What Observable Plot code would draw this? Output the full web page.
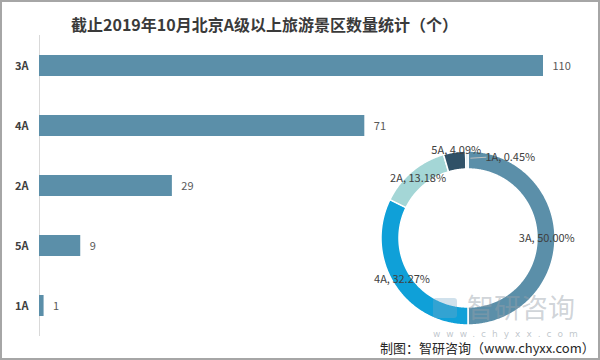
<!DOCTYPE html>
<html><head><meta charset="utf-8">
<script src="https://cdn.jsdelivr.net/npm/d3@7"></script>
<script src="https://cdn.jsdelivr.net/npm/@observablehq/plot@0.6"></script>
<style>
body{margin:0;background:#fff;}
#frame{position:relative;width:600px;height:360px;overflow:hidden;background:#fff;font-family:"Noto Sans CJK SC","Noto Sans",sans-serif;}
#border{position:absolute;left:0;top:0;width:600px;height:360px;box-sizing:border-box;border:2px solid #a6a6a6;z-index:10;pointer-events:none;}
#title{position:absolute;left:71px;top:13px;font-size:16px;line-height:22px;font-weight:bold;color:#3a3a3a;white-space:nowrap;}
#bars{position:absolute;left:0;top:0;}
#donut{position:absolute;left:348px;top:138px;}
#wm{position:absolute;left:467px;top:293px;font-size:27px;line-height:27px;color:rgba(150,160,170,0.45);white-space:nowrap;z-index:5;}
#wmlogo{position:absolute;left:433px;top:298px;width:24px;height:20px;background:rgba(120,170,200,0.35);border-radius:3px;z-index:5;}
#wmurl{position:absolute;left:433px;top:329px;font-size:9px;line-height:10px;letter-spacing:6px;color:rgba(150,160,170,0.6);white-space:nowrap;z-index:5;font-family:"DejaVu Sans",sans-serif;}
#caption{position:absolute;left:380px;top:340px;font-size:13px;line-height:16px;color:#262626;white-space:nowrap;z-index:6;background:transparent;}
svg{overflow:visible;}
</style></head><body>
<div id="frame">
  <div id="title">截止2019年10月北京A级以上旅游景区数量统计（个）</div>
  <div id="bars"></div>
  <div id="donut"></div>
  <div id="wmlogo"></div>
  <div id="wm">智研咨询</div>
  <div id="wmurl">www.chyxx.com</div>
  <div id="caption">制图：智研咨询（www.chyxx.com）</div>
  <div id="border"></div>
</div>
<script>
// ---- data ----
const categories = ["3A", "4A", "2A", "5A", "1A"];
const counts = [110, 71, 29, 9, 1];
const shareLabels = ["50.00%", "32.27%", "13.18%", "4.09%", "0.45%"];
const sliceColors = ["#5b8fa9", "#0fa0d8", "#a4d6d6", "#2f5167", "#c9e3ea"];

const rows = categories.map((c, i) => ({cat: c, count: counts[i], share: shareLabels[i]}));
const font = '"Noto Sans CJK SC","Noto Sans",sans-serif';

// ---- bar chart ----
const bars = Plot.plot({
  width: 600, height: 360,
  marginLeft: 39, marginRight: 57, marginTop: 35, marginBottom: 24,
  style: {fontFamily: font, background: "transparent", fontSize: "11px"},
  x: {domain: [0, 110], axis: null},
  y: {domain: categories, paddingInner: 0.65, paddingOuter: 0.325, axis: null},
  marks: [
    Plot.ruleX([0], {stroke: "#d9d9d9", strokeWidth: 1}),
    Plot.barX(rows, {x: "count", y: "cat", fill: "#5b8fa9"}),
    Plot.text(rows, {x: "count", y: "cat", text: d => String(d.count), textAnchor: "start", dx: 9, fill: "#595959", fontSize: 11}),
    Plot.axisY({tickSize: 0, tickPadding: 11, fontWeight: "bold", fontSize: 11, fill: "#404040", label: null})
  ]
});
document.getElementById("bars").appendChild(bars);

// ---- donut chart ----
const R = 1, r = 69 / 87;
const arcs = d3.pie().sort(null).value(d => d.count)(rows);
const ringRows = [];
arcs.forEach(a => {
  const n = Math.max(2, Math.ceil((a.endAngle - a.startAngle) / 0.01));
  for (let i = 0; i <= n; i++) {
    const t = a.startAngle + (a.endAngle - a.startAngle) * i / n;
    ringRows.push({cat: a.data.cat, x1: Math.sin(t) * R, y1: Math.cos(t) * R, x2: Math.sin(t) * r, y2: Math.cos(t) * r});
  }
});
const labelRows = arcs.map(a => {
  const m = (a.startAngle + a.endAngle) / 2;
  return {cat: a.data.cat, text: a.data.cat + ", " + a.data.share, x: Math.sin(m) * 0.9, y: Math.cos(m) * 0.9};
});
const k = 87; // px per unit
const donut = Plot.plot({
  width: 240, height: 200,
  margin: 0,
  style: {fontFamily: font, background: "transparent", fontSize: "11px"},
  x: {domain: [-120 / k, 120 / k], axis: null},
  y: {domain: [-100 / k, 100 / k], axis: null},
  color: {domain: categories, range: sliceColors},
  marks: [
    Plot.area(ringRows, {x1: "x1", y1: "y1", x2: "x2", y2: "y2", z: "cat", fill: "cat", stroke: "white", strokeWidth: 1.5, curve: "linear"}),
    Plot.text(labelRows.filter(d => ["3A", "4A", "2A"].includes(d.cat)), {x: "x", y: "y", text: "text", fill: "#404040", fontSize: 11}),
    Plot.text(labelRows.filter(d => d.cat === "5A"), {x: "x", y: "y", text: "text", fill: "#404040", fontSize: 11, dy: -11}),
    Plot.link(labelRows.filter(d => d.cat === "1A"), {x1: "x", y1: "y", x2: d => d.x + 16 / k, y2: d => d.y + 1 / k, stroke: "#bfbfbf", strokeWidth: 1, dx: 3, dy: -2}),
    Plot.text(labelRows.filter(d => d.cat === "1A"), {x: "x", y: "y", text: "text", fill: "#404040", fontSize: 11, textAnchor: "start", dx: 18, dy: -3})
  ]
});
document.getElementById("donut").appendChild(donut);
</script>
</body></html>
